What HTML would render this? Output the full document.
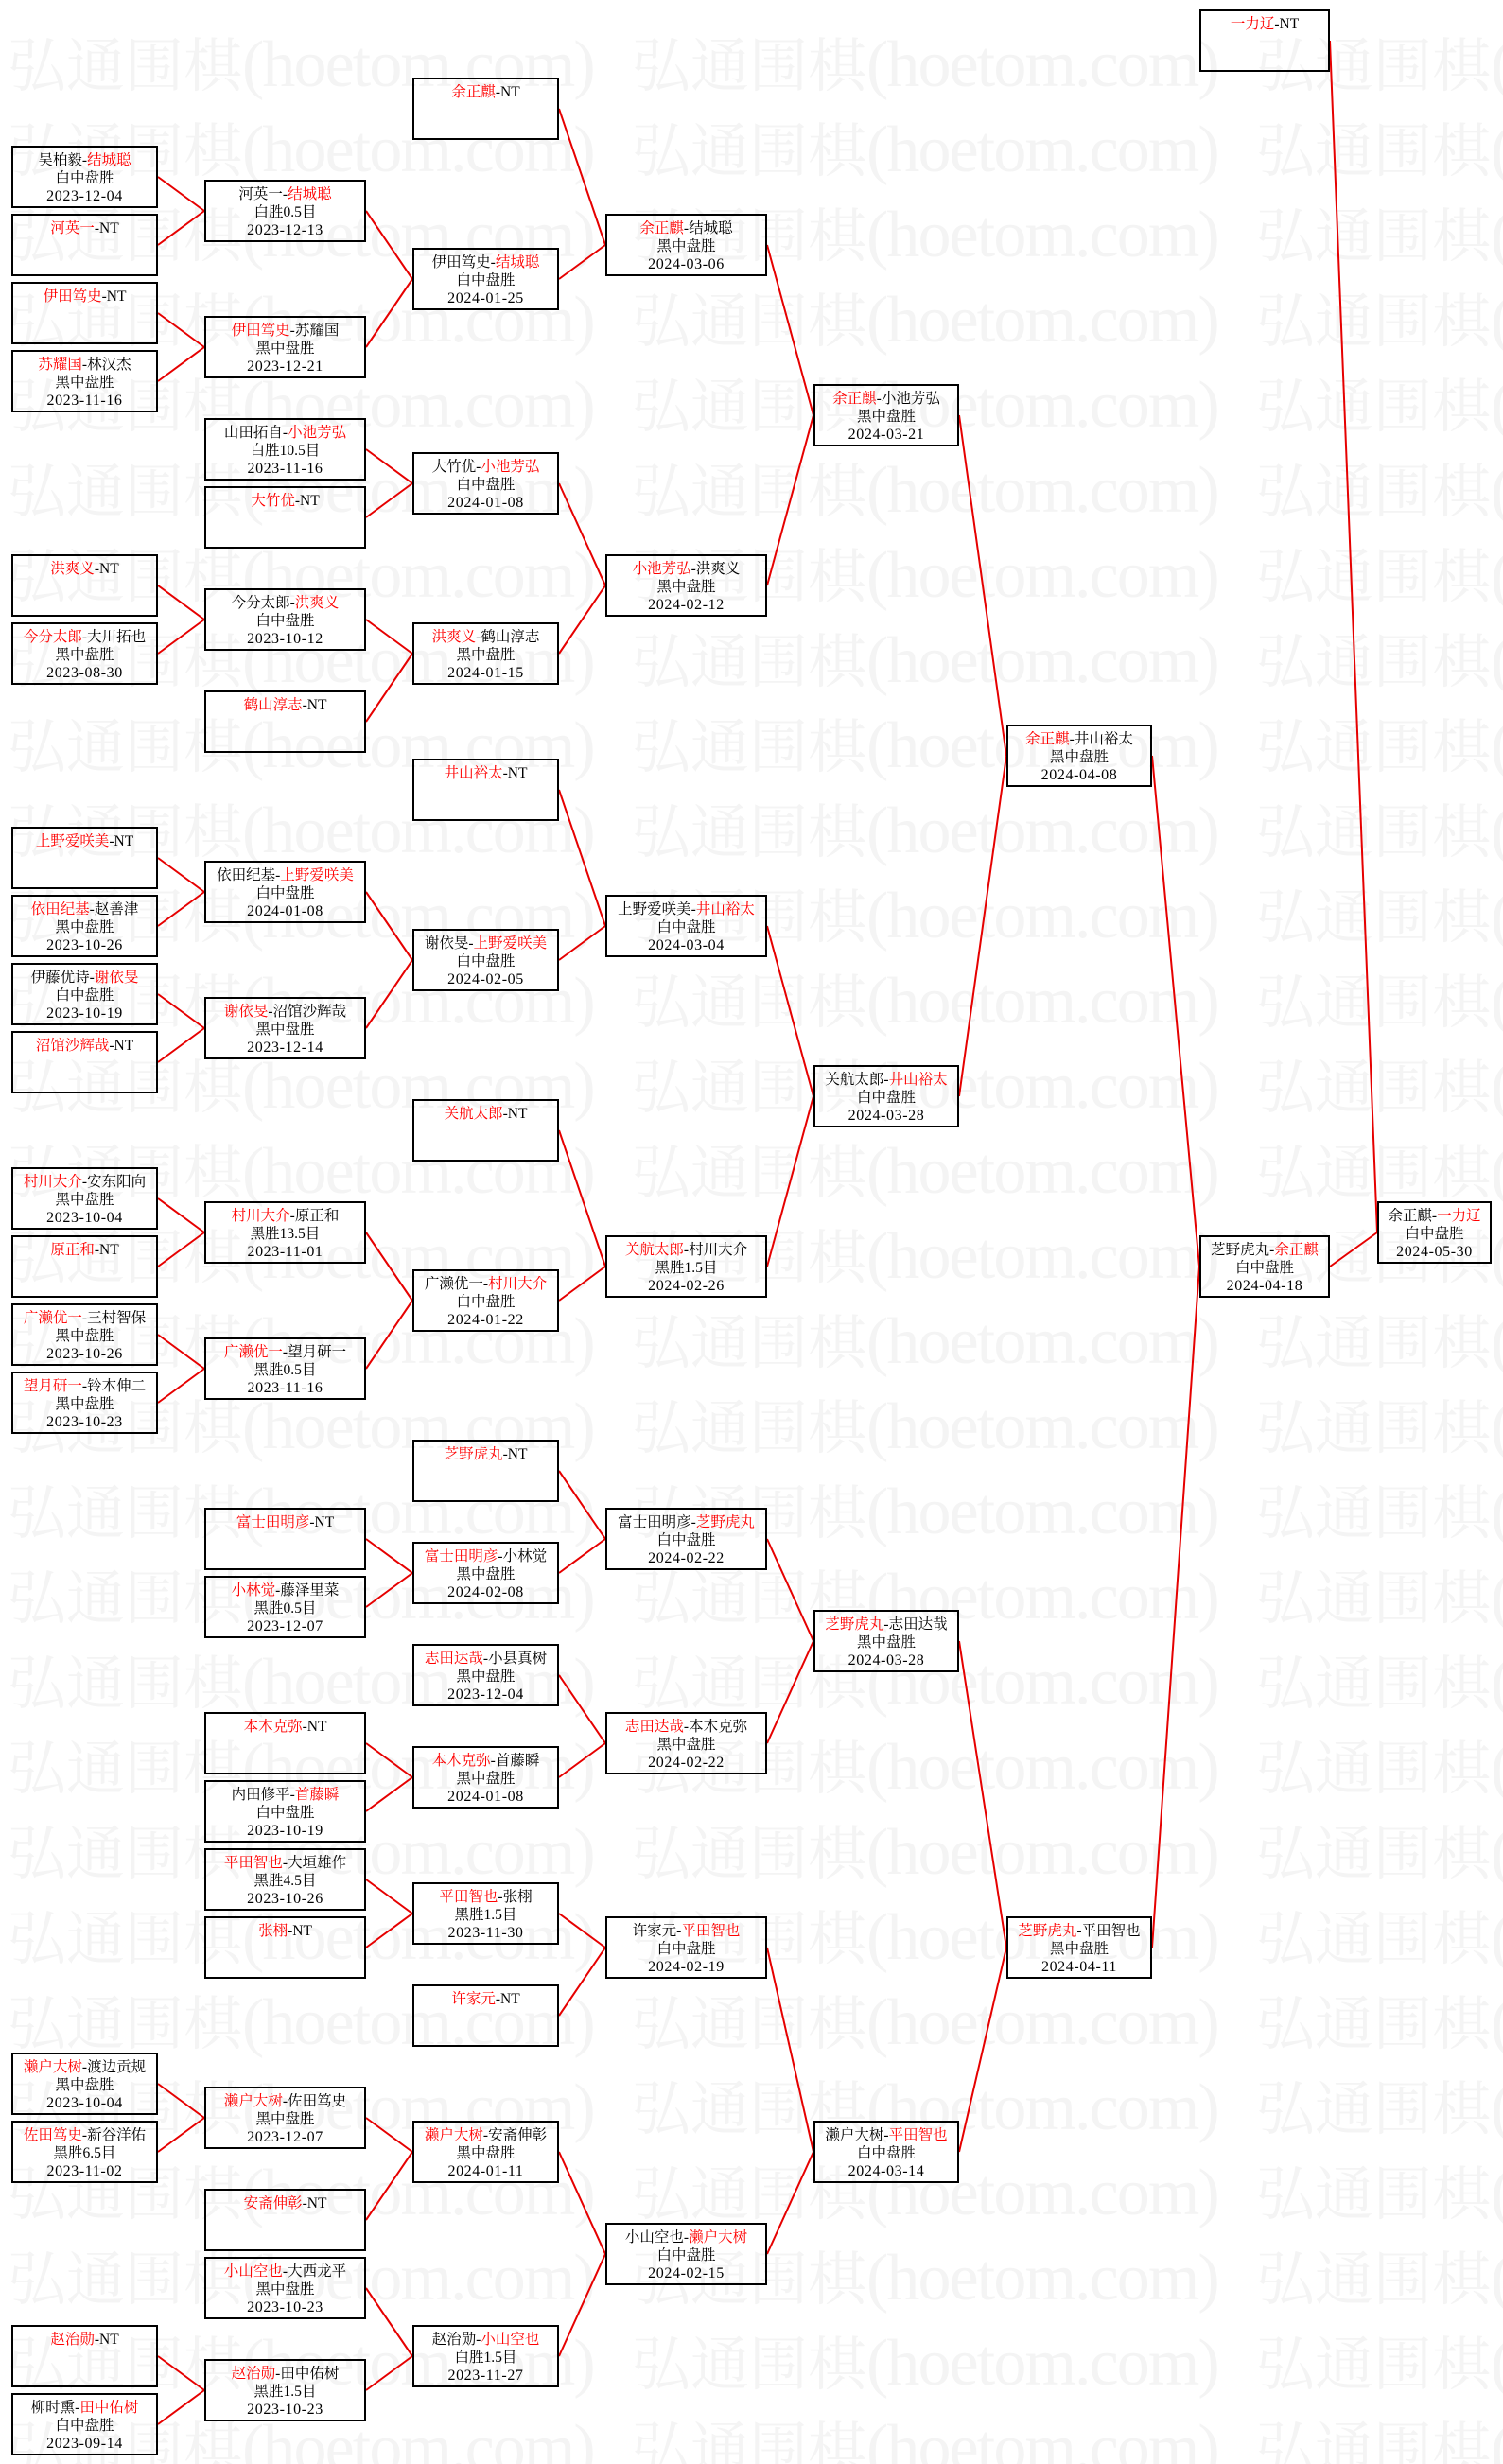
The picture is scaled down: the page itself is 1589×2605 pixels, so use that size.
<!DOCTYPE html>
<html><head><meta charset="utf-8"><title>bracket</title>
<style>
html,body{margin:0;padding:0;background:#fff;}
#c{display:block;}
.b text{font-family:"Liberation Serif","Noto Serif CJK SC",serif;font-size:15.5px;text-anchor:middle;fill:#000;}
.b .r{fill:#f00;}
.b .d{font-size:16px;letter-spacing:0.6px;}
.b rect{fill:none;stroke:#000;stroke-width:4;}
.w text{font-family:"Noto Serif CJK SC","WenQuanYi Zen Hei",serif;font-size:62px;fill:#f4f4f4;text-anchor:start;}
.w .m{font-family:"Liberation Serif",serif;font-size:70px;letter-spacing:-1.9px;}
.l{stroke:#e60000;stroke-width:2;fill:none;}
</style></head><body>
<svg id="c" xmlns="http://www.w3.org/2000/svg" width="1589" height="2605" viewBox="0 0 1589 2605">
<g class="w">
<text y="91"><tspan x="8">弘通围棋</tspan><tspan class="m">(hoetom.com)</tspan><tspan x="668">弘通围棋</tspan><tspan class="m">(hoetom.com)</tspan><tspan x="1328">弘通围棋</tspan><tspan class="m">(hoetom.com)</tspan></text>
<text y="181"><tspan x="8">弘通围棋</tspan><tspan class="m">(hoetom.com)</tspan><tspan x="668">弘通围棋</tspan><tspan class="m">(hoetom.com)</tspan><tspan x="1328">弘通围棋</tspan><tspan class="m">(hoetom.com)</tspan></text>
<text y="271"><tspan x="8">弘通围棋</tspan><tspan class="m">(hoetom.com)</tspan><tspan x="668">弘通围棋</tspan><tspan class="m">(hoetom.com)</tspan><tspan x="1328">弘通围棋</tspan><tspan class="m">(hoetom.com)</tspan></text>
<text y="361"><tspan x="8">弘通围棋</tspan><tspan class="m">(hoetom.com)</tspan><tspan x="668">弘通围棋</tspan><tspan class="m">(hoetom.com)</tspan><tspan x="1328">弘通围棋</tspan><tspan class="m">(hoetom.com)</tspan></text>
<text y="451"><tspan x="8">弘通围棋</tspan><tspan class="m">(hoetom.com)</tspan><tspan x="668">弘通围棋</tspan><tspan class="m">(hoetom.com)</tspan><tspan x="1328">弘通围棋</tspan><tspan class="m">(hoetom.com)</tspan></text>
<text y="541"><tspan x="8">弘通围棋</tspan><tspan class="m">(hoetom.com)</tspan><tspan x="668">弘通围棋</tspan><tspan class="m">(hoetom.com)</tspan><tspan x="1328">弘通围棋</tspan><tspan class="m">(hoetom.com)</tspan></text>
<text y="631"><tspan x="8">弘通围棋</tspan><tspan class="m">(hoetom.com)</tspan><tspan x="668">弘通围棋</tspan><tspan class="m">(hoetom.com)</tspan><tspan x="1328">弘通围棋</tspan><tspan class="m">(hoetom.com)</tspan></text>
<text y="721"><tspan x="8">弘通围棋</tspan><tspan class="m">(hoetom.com)</tspan><tspan x="668">弘通围棋</tspan><tspan class="m">(hoetom.com)</tspan><tspan x="1328">弘通围棋</tspan><tspan class="m">(hoetom.com)</tspan></text>
<text y="811"><tspan x="8">弘通围棋</tspan><tspan class="m">(hoetom.com)</tspan><tspan x="668">弘通围棋</tspan><tspan class="m">(hoetom.com)</tspan><tspan x="1328">弘通围棋</tspan><tspan class="m">(hoetom.com)</tspan></text>
<text y="901"><tspan x="8">弘通围棋</tspan><tspan class="m">(hoetom.com)</tspan><tspan x="668">弘通围棋</tspan><tspan class="m">(hoetom.com)</tspan><tspan x="1328">弘通围棋</tspan><tspan class="m">(hoetom.com)</tspan></text>
<text y="991"><tspan x="8">弘通围棋</tspan><tspan class="m">(hoetom.com)</tspan><tspan x="668">弘通围棋</tspan><tspan class="m">(hoetom.com)</tspan><tspan x="1328">弘通围棋</tspan><tspan class="m">(hoetom.com)</tspan></text>
<text y="1081"><tspan x="8">弘通围棋</tspan><tspan class="m">(hoetom.com)</tspan><tspan x="668">弘通围棋</tspan><tspan class="m">(hoetom.com)</tspan><tspan x="1328">弘通围棋</tspan><tspan class="m">(hoetom.com)</tspan></text>
<text y="1171"><tspan x="8">弘通围棋</tspan><tspan class="m">(hoetom.com)</tspan><tspan x="668">弘通围棋</tspan><tspan class="m">(hoetom.com)</tspan><tspan x="1328">弘通围棋</tspan><tspan class="m">(hoetom.com)</tspan></text>
<text y="1261"><tspan x="8">弘通围棋</tspan><tspan class="m">(hoetom.com)</tspan><tspan x="668">弘通围棋</tspan><tspan class="m">(hoetom.com)</tspan><tspan x="1328">弘通围棋</tspan><tspan class="m">(hoetom.com)</tspan></text>
<text y="1351"><tspan x="8">弘通围棋</tspan><tspan class="m">(hoetom.com)</tspan><tspan x="668">弘通围棋</tspan><tspan class="m">(hoetom.com)</tspan><tspan x="1328">弘通围棋</tspan><tspan class="m">(hoetom.com)</tspan></text>
<text y="1441"><tspan x="8">弘通围棋</tspan><tspan class="m">(hoetom.com)</tspan><tspan x="668">弘通围棋</tspan><tspan class="m">(hoetom.com)</tspan><tspan x="1328">弘通围棋</tspan><tspan class="m">(hoetom.com)</tspan></text>
<text y="1531"><tspan x="8">弘通围棋</tspan><tspan class="m">(hoetom.com)</tspan><tspan x="668">弘通围棋</tspan><tspan class="m">(hoetom.com)</tspan><tspan x="1328">弘通围棋</tspan><tspan class="m">(hoetom.com)</tspan></text>
<text y="1621"><tspan x="8">弘通围棋</tspan><tspan class="m">(hoetom.com)</tspan><tspan x="668">弘通围棋</tspan><tspan class="m">(hoetom.com)</tspan><tspan x="1328">弘通围棋</tspan><tspan class="m">(hoetom.com)</tspan></text>
<text y="1711"><tspan x="8">弘通围棋</tspan><tspan class="m">(hoetom.com)</tspan><tspan x="668">弘通围棋</tspan><tspan class="m">(hoetom.com)</tspan><tspan x="1328">弘通围棋</tspan><tspan class="m">(hoetom.com)</tspan></text>
<text y="1801"><tspan x="8">弘通围棋</tspan><tspan class="m">(hoetom.com)</tspan><tspan x="668">弘通围棋</tspan><tspan class="m">(hoetom.com)</tspan><tspan x="1328">弘通围棋</tspan><tspan class="m">(hoetom.com)</tspan></text>
<text y="1891"><tspan x="8">弘通围棋</tspan><tspan class="m">(hoetom.com)</tspan><tspan x="668">弘通围棋</tspan><tspan class="m">(hoetom.com)</tspan><tspan x="1328">弘通围棋</tspan><tspan class="m">(hoetom.com)</tspan></text>
<text y="1981"><tspan x="8">弘通围棋</tspan><tspan class="m">(hoetom.com)</tspan><tspan x="668">弘通围棋</tspan><tspan class="m">(hoetom.com)</tspan><tspan x="1328">弘通围棋</tspan><tspan class="m">(hoetom.com)</tspan></text>
<text y="2071"><tspan x="8">弘通围棋</tspan><tspan class="m">(hoetom.com)</tspan><tspan x="668">弘通围棋</tspan><tspan class="m">(hoetom.com)</tspan><tspan x="1328">弘通围棋</tspan><tspan class="m">(hoetom.com)</tspan></text>
<text y="2161"><tspan x="8">弘通围棋</tspan><tspan class="m">(hoetom.com)</tspan><tspan x="668">弘通围棋</tspan><tspan class="m">(hoetom.com)</tspan><tspan x="1328">弘通围棋</tspan><tspan class="m">(hoetom.com)</tspan></text>
<text y="2251"><tspan x="8">弘通围棋</tspan><tspan class="m">(hoetom.com)</tspan><tspan x="668">弘通围棋</tspan><tspan class="m">(hoetom.com)</tspan><tspan x="1328">弘通围棋</tspan><tspan class="m">(hoetom.com)</tspan></text>
<text y="2341"><tspan x="8">弘通围棋</tspan><tspan class="m">(hoetom.com)</tspan><tspan x="668">弘通围棋</tspan><tspan class="m">(hoetom.com)</tspan><tspan x="1328">弘通围棋</tspan><tspan class="m">(hoetom.com)</tspan></text>
<text y="2431"><tspan x="8">弘通围棋</tspan><tspan class="m">(hoetom.com)</tspan><tspan x="668">弘通围棋</tspan><tspan class="m">(hoetom.com)</tspan><tspan x="1328">弘通围棋</tspan><tspan class="m">(hoetom.com)</tspan></text>
<text y="2521"><tspan x="8">弘通围棋</tspan><tspan class="m">(hoetom.com)</tspan><tspan x="668">弘通围棋</tspan><tspan class="m">(hoetom.com)</tspan><tspan x="1328">弘通围棋</tspan><tspan class="m">(hoetom.com)</tspan></text>
<text y="2611"><tspan x="8">弘通围棋</tspan><tspan class="m">(hoetom.com)</tspan><tspan x="668">弘通围棋</tspan><tspan class="m">(hoetom.com)</tspan><tspan x="1328">弘通围棋</tspan><tspan class="m">(hoetom.com)</tspan></text>
</g>

<path class="l" d="M167 187L216 223M167 259L216 223M167 331L216 367M167 403L216 367
M387 223L436 295M387 367L436 295
M591 115L640 259M591 295L640 259
M387 475L436 511M387 547L436 511
M167 619L216 655M167 691L216 655
M387 655L436 691M387 763L436 691
M591 511L640 619M591 691L640 619
M811 259L860 439M811 619L860 439
M167 907L216 943M167 979L216 943M167 1051L216 1087M167 1123L216 1087
M387 943L436 1015M387 1087L436 1015
M591 835L640 979M591 1015L640 979
M167 1267L216 1303M167 1339L216 1303M167 1411L216 1447M167 1483L216 1447
M387 1303L436 1375M387 1447L436 1375
M591 1195L640 1339M591 1375L640 1339
M811 979L860 1159M811 1339L860 1159
M1014 439L1064 799M1014 1159L1064 799
M387 1627L436 1663M387 1699L436 1663
M591 1555L640 1627M591 1663L640 1627
M387 1843L436 1879M387 1915L436 1879
M591 1771L640 1843M591 1879L640 1843
M811 1627L860 1735M811 1843L860 1735
M387 1987L436 2023M387 2059L436 2023
M591 2023L640 2059M591 2131L640 2059
M167 2203L216 2239M167 2275L216 2239
M387 2239L436 2275M387 2347L436 2275
M167 2491L216 2527M167 2563L216 2527
M387 2419L436 2491M387 2527L436 2491
M591 2275L640 2383M591 2491L640 2383
M811 2059L860 2275M811 2383L860 2275
M1014 1735L1064 2059M1014 2275L1064 2059
M1218 799L1268 1339M1218 2059L1268 1339
M1406 43L1456 1303M1406 1339L1456 1303"/>

<g class="b">
<!-- Column 1 -->
<svg x="12" y="154" width="155" height="66"><rect width="100%" height="100%"/><text x="50%" y="20">吴柏毅-<tspan class="r">结城聪</tspan></text><text x="50%" y="39">白中盘胜</text><text x="50%" y="58" class="d">2023-12-04</text></svg>
<svg x="12" y="226" width="155" height="66"><rect width="100%" height="100%"/><text x="50%" y="20"><tspan class="r">河英一</tspan>-NT</text></svg>
<svg x="12" y="298" width="155" height="66"><rect width="100%" height="100%"/><text x="50%" y="20"><tspan class="r">伊田笃史</tspan>-NT</text></svg>
<svg x="12" y="370" width="155" height="66"><rect width="100%" height="100%"/><text x="50%" y="20"><tspan class="r">苏耀国</tspan>-林汉杰</text><text x="50%" y="39">黑中盘胜</text><text x="50%" y="58" class="d">2023-11-16</text></svg>
<svg x="12" y="586" width="155" height="66"><rect width="100%" height="100%"/><text x="50%" y="20"><tspan class="r">洪爽义</tspan>-NT</text></svg>
<svg x="12" y="658" width="155" height="66"><rect width="100%" height="100%"/><text x="50%" y="20"><tspan class="r">今分太郎</tspan>-大川拓也</text><text x="50%" y="39">黑中盘胜</text><text x="50%" y="58" class="d">2023-08-30</text></svg>
<svg x="12" y="874" width="155" height="66"><rect width="100%" height="100%"/><text x="50%" y="20"><tspan class="r">上野爱咲美</tspan>-NT</text></svg>
<svg x="12" y="946" width="155" height="66"><rect width="100%" height="100%"/><text x="50%" y="20"><tspan class="r">依田纪基</tspan>-赵善津</text><text x="50%" y="39">黑中盘胜</text><text x="50%" y="58" class="d">2023-10-26</text></svg>
<svg x="12" y="1018" width="155" height="66"><rect width="100%" height="100%"/><text x="50%" y="20">伊藤优诗-<tspan class="r">谢依旻</tspan></text><text x="50%" y="39">白中盘胜</text><text x="50%" y="58" class="d">2023-10-19</text></svg>
<svg x="12" y="1090" width="155" height="66"><rect width="100%" height="100%"/><text x="50%" y="20"><tspan class="r">沼馆沙辉哉</tspan>-NT</text></svg>
<svg x="12" y="1234" width="155" height="66"><rect width="100%" height="100%"/><text x="50%" y="20"><tspan class="r">村川大介</tspan>-安东阳向</text><text x="50%" y="39">黑中盘胜</text><text x="50%" y="58" class="d">2023-10-04</text></svg>
<svg x="12" y="1306" width="155" height="66"><rect width="100%" height="100%"/><text x="50%" y="20"><tspan class="r">原正和</tspan>-NT</text></svg>
<svg x="12" y="1378" width="155" height="66"><rect width="100%" height="100%"/><text x="50%" y="20"><tspan class="r">广濑优一</tspan>-三村智保</text><text x="50%" y="39">黑中盘胜</text><text x="50%" y="58" class="d">2023-10-26</text></svg>
<svg x="12" y="1450" width="155" height="66"><rect width="100%" height="100%"/><text x="50%" y="20"><tspan class="r">望月研一</tspan>-铃木伸二</text><text x="50%" y="39">黑中盘胜</text><text x="50%" y="58" class="d">2023-10-23</text></svg>
<svg x="12" y="2170" width="155" height="66"><rect width="100%" height="100%"/><text x="50%" y="20"><tspan class="r">濑户大树</tspan>-渡边贡规</text><text x="50%" y="39">黑中盘胜</text><text x="50%" y="58" class="d">2023-10-04</text></svg>
<svg x="12" y="2242" width="155" height="66"><rect width="100%" height="100%"/><text x="50%" y="20"><tspan class="r">佐田笃史</tspan>-新谷洋佑</text><text x="50%" y="39">黑胜6.5目</text><text x="50%" y="58" class="d">2023-11-02</text></svg>
<svg x="12" y="2458" width="155" height="66"><rect width="100%" height="100%"/><text x="50%" y="20"><tspan class="r">赵治勋</tspan>-NT</text></svg>
<svg x="12" y="2530" width="155" height="66"><rect width="100%" height="100%"/><text x="50%" y="20">柳时熏-<tspan class="r">田中佑树</tspan></text><text x="50%" y="39">白中盘胜</text><text x="50%" y="58" class="d">2023-09-14</text></svg>

<!-- Column 2 -->
<svg x="216" y="190" width="171" height="66"><rect width="100%" height="100%"/><text x="50%" y="20">河英一-<tspan class="r">结城聪</tspan></text><text x="50%" y="39">白胜0.5目</text><text x="50%" y="58" class="d">2023-12-13</text></svg>
<svg x="216" y="334" width="171" height="66"><rect width="100%" height="100%"/><text x="50%" y="20"><tspan class="r">伊田笃史</tspan>-苏耀国</text><text x="50%" y="39">黑中盘胜</text><text x="50%" y="58" class="d">2023-12-21</text></svg>
<svg x="216" y="442" width="171" height="66"><rect width="100%" height="100%"/><text x="50%" y="20">山田拓自-<tspan class="r">小池芳弘</tspan></text><text x="50%" y="39">白胜10.5目</text><text x="50%" y="58" class="d">2023-11-16</text></svg>
<svg x="216" y="514" width="171" height="66"><rect width="100%" height="100%"/><text x="50%" y="20"><tspan class="r">大竹优</tspan>-NT</text></svg>
<svg x="216" y="622" width="171" height="66"><rect width="100%" height="100%"/><text x="50%" y="20">今分太郎-<tspan class="r">洪爽义</tspan></text><text x="50%" y="39">白中盘胜</text><text x="50%" y="58" class="d">2023-10-12</text></svg>
<svg x="216" y="730" width="171" height="66"><rect width="100%" height="100%"/><text x="50%" y="20"><tspan class="r">鹤山淳志</tspan>-NT</text></svg>
<svg x="216" y="910" width="171" height="66"><rect width="100%" height="100%"/><text x="50%" y="20">依田纪基-<tspan class="r">上野爱咲美</tspan></text><text x="50%" y="39">白中盘胜</text><text x="50%" y="58" class="d">2024-01-08</text></svg>
<svg x="216" y="1054" width="171" height="66"><rect width="100%" height="100%"/><text x="50%" y="20"><tspan class="r">谢依旻</tspan>-沼馆沙辉哉</text><text x="50%" y="39">黑中盘胜</text><text x="50%" y="58" class="d">2023-12-14</text></svg>
<svg x="216" y="1270" width="171" height="66"><rect width="100%" height="100%"/><text x="50%" y="20"><tspan class="r">村川大介</tspan>-原正和</text><text x="50%" y="39">黑胜13.5目</text><text x="50%" y="58" class="d">2023-11-01</text></svg>
<svg x="216" y="1414" width="171" height="66"><rect width="100%" height="100%"/><text x="50%" y="20"><tspan class="r">广濑优一</tspan>-望月研一</text><text x="50%" y="39">黑胜0.5目</text><text x="50%" y="58" class="d">2023-11-16</text></svg>
<svg x="216" y="1594" width="171" height="66"><rect width="100%" height="100%"/><text x="50%" y="20"><tspan class="r">富士田明彦</tspan>-NT</text></svg>
<svg x="216" y="1666" width="171" height="66"><rect width="100%" height="100%"/><text x="50%" y="20"><tspan class="r">小林觉</tspan>-藤泽里菜</text><text x="50%" y="39">黑胜0.5目</text><text x="50%" y="58" class="d">2023-12-07</text></svg>
<svg x="216" y="1810" width="171" height="66"><rect width="100%" height="100%"/><text x="50%" y="20"><tspan class="r">本木克弥</tspan>-NT</text></svg>
<svg x="216" y="1882" width="171" height="66"><rect width="100%" height="100%"/><text x="50%" y="20">内田修平-<tspan class="r">首藤瞬</tspan></text><text x="50%" y="39">白中盘胜</text><text x="50%" y="58" class="d">2023-10-19</text></svg>
<svg x="216" y="1954" width="171" height="66"><rect width="100%" height="100%"/><text x="50%" y="20"><tspan class="r">平田智也</tspan>-大垣雄作</text><text x="50%" y="39">黑胜4.5目</text><text x="50%" y="58" class="d">2023-10-26</text></svg>
<svg x="216" y="2026" width="171" height="66"><rect width="100%" height="100%"/><text x="50%" y="20"><tspan class="r">张栩</tspan>-NT</text></svg>
<svg x="216" y="2206" width="171" height="66"><rect width="100%" height="100%"/><text x="50%" y="20"><tspan class="r">濑户大树</tspan>-佐田笃史</text><text x="50%" y="39">黑中盘胜</text><text x="50%" y="58" class="d">2023-12-07</text></svg>
<svg x="216" y="2314" width="171" height="66"><rect width="100%" height="100%"/><text x="50%" y="20"><tspan class="r">安斋伸彰</tspan>-NT</text></svg>
<svg x="216" y="2386" width="171" height="66"><rect width="100%" height="100%"/><text x="50%" y="20"><tspan class="r">小山空也</tspan>-大西龙平</text><text x="50%" y="39">黑中盘胜</text><text x="50%" y="58" class="d">2023-10-23</text></svg>
<svg x="216" y="2494" width="171" height="66"><rect width="100%" height="100%"/><text x="50%" y="20"><tspan class="r">赵治勋</tspan>-田中佑树</text><text x="50%" y="39">黑胜1.5目</text><text x="50%" y="58" class="d">2023-10-23</text></svg>

<!-- Column 3 -->
<svg x="436" y="82" width="155" height="66"><rect width="100%" height="100%"/><text x="50%" y="20"><tspan class="r">余正麒</tspan>-NT</text></svg>
<svg x="436" y="262" width="155" height="66"><rect width="100%" height="100%"/><text x="50%" y="20">伊田笃史-<tspan class="r">结城聪</tspan></text><text x="50%" y="39">白中盘胜</text><text x="50%" y="58" class="d">2024-01-25</text></svg>
<svg x="436" y="478" width="155" height="66"><rect width="100%" height="100%"/><text x="50%" y="20">大竹优-<tspan class="r">小池芳弘</tspan></text><text x="50%" y="39">白中盘胜</text><text x="50%" y="58" class="d">2024-01-08</text></svg>
<svg x="436" y="658" width="155" height="66"><rect width="100%" height="100%"/><text x="50%" y="20"><tspan class="r">洪爽义</tspan>-鹤山淳志</text><text x="50%" y="39">黑中盘胜</text><text x="50%" y="58" class="d">2024-01-15</text></svg>
<svg x="436" y="802" width="155" height="66"><rect width="100%" height="100%"/><text x="50%" y="20"><tspan class="r">井山裕太</tspan>-NT</text></svg>
<svg x="436" y="982" width="155" height="66"><rect width="100%" height="100%"/><text x="50%" y="20">谢依旻-<tspan class="r">上野爱咲美</tspan></text><text x="50%" y="39">白中盘胜</text><text x="50%" y="58" class="d">2024-02-05</text></svg>
<svg x="436" y="1162" width="155" height="66"><rect width="100%" height="100%"/><text x="50%" y="20"><tspan class="r">关航太郎</tspan>-NT</text></svg>
<svg x="436" y="1342" width="155" height="66"><rect width="100%" height="100%"/><text x="50%" y="20">广濑优一-<tspan class="r">村川大介</tspan></text><text x="50%" y="39">白中盘胜</text><text x="50%" y="58" class="d">2024-01-22</text></svg>
<svg x="436" y="1522" width="155" height="66"><rect width="100%" height="100%"/><text x="50%" y="20"><tspan class="r">芝野虎丸</tspan>-NT</text></svg>
<svg x="436" y="1630" width="155" height="66"><rect width="100%" height="100%"/><text x="50%" y="20"><tspan class="r">富士田明彦</tspan>-小林觉</text><text x="50%" y="39">黑中盘胜</text><text x="50%" y="58" class="d">2024-02-08</text></svg>
<svg x="436" y="1738" width="155" height="66"><rect width="100%" height="100%"/><text x="50%" y="20"><tspan class="r">志田达哉</tspan>-小县真树</text><text x="50%" y="39">黑中盘胜</text><text x="50%" y="58" class="d">2023-12-04</text></svg>
<svg x="436" y="1846" width="155" height="66"><rect width="100%" height="100%"/><text x="50%" y="20"><tspan class="r">本木克弥</tspan>-首藤瞬</text><text x="50%" y="39">黑中盘胜</text><text x="50%" y="58" class="d">2024-01-08</text></svg>
<svg x="436" y="1990" width="155" height="66"><rect width="100%" height="100%"/><text x="50%" y="20"><tspan class="r">平田智也</tspan>-张栩</text><text x="50%" y="39">黑胜1.5目</text><text x="50%" y="58" class="d">2023-11-30</text></svg>
<svg x="436" y="2098" width="155" height="66"><rect width="100%" height="100%"/><text x="50%" y="20"><tspan class="r">许家元</tspan>-NT</text></svg>
<svg x="436" y="2242" width="155" height="66"><rect width="100%" height="100%"/><text x="50%" y="20"><tspan class="r">濑户大树</tspan>-安斋伸彰</text><text x="50%" y="39">黑中盘胜</text><text x="50%" y="58" class="d">2024-01-11</text></svg>
<svg x="436" y="2458" width="155" height="66"><rect width="100%" height="100%"/><text x="50%" y="20">赵治勋-<tspan class="r">小山空也</tspan></text><text x="50%" y="39">白胜1.5目</text><text x="50%" y="58" class="d">2023-11-27</text></svg>

<!-- Column 4 -->
<svg x="640" y="226" width="171" height="66"><rect width="100%" height="100%"/><text x="50%" y="20"><tspan class="r">余正麒</tspan>-结城聪</text><text x="50%" y="39">黑中盘胜</text><text x="50%" y="58" class="d">2024-03-06</text></svg>
<svg x="640" y="586" width="171" height="66"><rect width="100%" height="100%"/><text x="50%" y="20"><tspan class="r">小池芳弘</tspan>-洪爽义</text><text x="50%" y="39">黑中盘胜</text><text x="50%" y="58" class="d">2024-02-12</text></svg>
<svg x="640" y="946" width="171" height="66"><rect width="100%" height="100%"/><text x="50%" y="20">上野爱咲美-<tspan class="r">井山裕太</tspan></text><text x="50%" y="39">白中盘胜</text><text x="50%" y="58" class="d">2024-03-04</text></svg>
<svg x="640" y="1306" width="171" height="66"><rect width="100%" height="100%"/><text x="50%" y="20"><tspan class="r">关航太郎</tspan>-村川大介</text><text x="50%" y="39">黑胜1.5目</text><text x="50%" y="58" class="d">2024-02-26</text></svg>
<svg x="640" y="1594" width="171" height="66"><rect width="100%" height="100%"/><text x="50%" y="20">富士田明彦-<tspan class="r">芝野虎丸</tspan></text><text x="50%" y="39">白中盘胜</text><text x="50%" y="58" class="d">2024-02-22</text></svg>
<svg x="640" y="1810" width="171" height="66"><rect width="100%" height="100%"/><text x="50%" y="20"><tspan class="r">志田达哉</tspan>-本木克弥</text><text x="50%" y="39">黑中盘胜</text><text x="50%" y="58" class="d">2024-02-22</text></svg>
<svg x="640" y="2026" width="171" height="66"><rect width="100%" height="100%"/><text x="50%" y="20">许家元-<tspan class="r">平田智也</tspan></text><text x="50%" y="39">白中盘胜</text><text x="50%" y="58" class="d">2024-02-19</text></svg>
<svg x="640" y="2350" width="171" height="66"><rect width="100%" height="100%"/><text x="50%" y="20">小山空也-<tspan class="r">濑户大树</tspan></text><text x="50%" y="39">白中盘胜</text><text x="50%" y="58" class="d">2024-02-15</text></svg>

<!-- Column 5 -->
<svg x="860" y="406" width="154" height="66"><rect width="100%" height="100%"/><text x="50%" y="20"><tspan class="r">余正麒</tspan>-小池芳弘</text><text x="50%" y="39">黑中盘胜</text><text x="50%" y="58" class="d">2024-03-21</text></svg>
<svg x="860" y="1126" width="154" height="66"><rect width="100%" height="100%"/><text x="50%" y="20">关航太郎-<tspan class="r">井山裕太</tspan></text><text x="50%" y="39">白中盘胜</text><text x="50%" y="58" class="d">2024-03-28</text></svg>
<svg x="860" y="1702" width="154" height="66"><rect width="100%" height="100%"/><text x="50%" y="20"><tspan class="r">芝野虎丸</tspan>-志田达哉</text><text x="50%" y="39">黑中盘胜</text><text x="50%" y="58" class="d">2024-03-28</text></svg>
<svg x="860" y="2242" width="154" height="66"><rect width="100%" height="100%"/><text x="50%" y="20">濑户大树-<tspan class="r">平田智也</tspan></text><text x="50%" y="39">白中盘胜</text><text x="50%" y="58" class="d">2024-03-14</text></svg>

<!-- Column 6 -->
<svg x="1064" y="766" width="154" height="66"><rect width="100%" height="100%"/><text x="50%" y="20"><tspan class="r">余正麒</tspan>-井山裕太</text><text x="50%" y="39">黑中盘胜</text><text x="50%" y="58" class="d">2024-04-08</text></svg>
<svg x="1064" y="2026" width="154" height="66"><rect width="100%" height="100%"/><text x="50%" y="20"><tspan class="r">芝野虎丸</tspan>-平田智也</text><text x="50%" y="39">黑中盘胜</text><text x="50%" y="58" class="d">2024-04-11</text></svg>

<!-- Column 7 -->
<svg x="1268" y="10" width="138" height="66"><rect width="100%" height="100%"/><text x="50%" y="20"><tspan class="r">一力辽</tspan>-NT</text></svg>
<svg x="1268" y="1306" width="138" height="66"><rect width="100%" height="100%"/><text x="50%" y="20">芝野虎丸-<tspan class="r">余正麒</tspan></text><text x="50%" y="39">白中盘胜</text><text x="50%" y="58" class="d">2024-04-18</text></svg>

<!-- Column 8 -->
<svg x="1456" y="1270" width="121" height="66"><rect width="100%" height="100%"/><text x="50%" y="20">余正麒-<tspan class="r">一力辽</tspan></text><text x="50%" y="39">白中盘胜</text><text x="50%" y="58" class="d">2024-05-30</text></svg>
</g>
</svg>
</body></html>
